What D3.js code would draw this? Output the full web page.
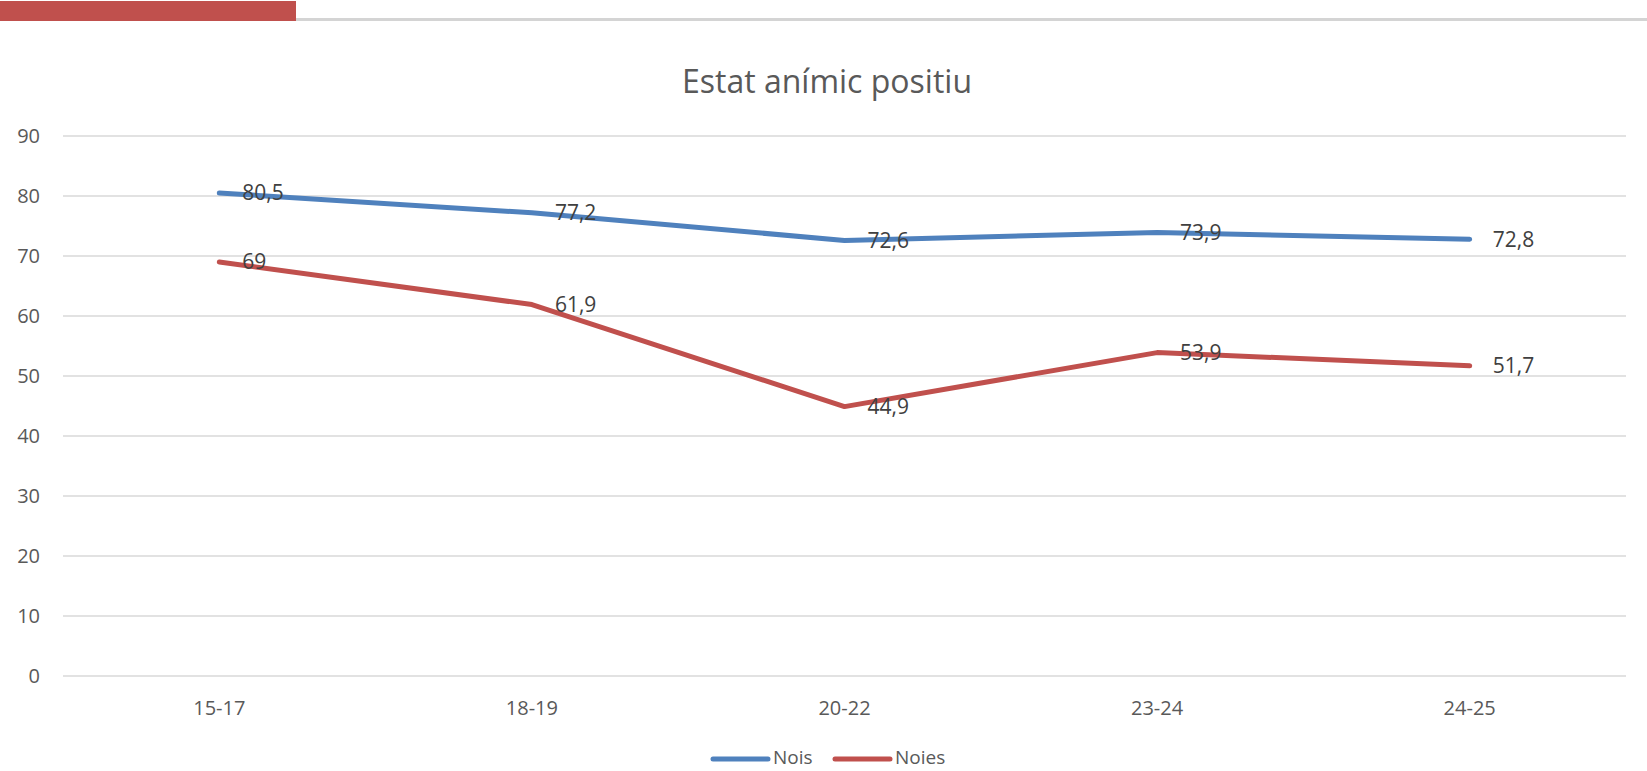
<!DOCTYPE html>
<html>
<head>
<meta charset="utf-8">
<title>Estat anímic positiu</title>
<style>
  body { margin: 0; background: #fff; }
  text { font-family: "Open Sans", "Noto Sans", sans-serif; }
</style>
</head>
<body>
<script src="https://d3js.org/d3.v7.min.js"></script>
<div id="chart"></div>
<script>
// data
var categories = ["15-17", "18-19", "20-22", "23-24", "24-25"];
var nois = [80.5, 77.2, 72.6, 73.9, 72.8];
var noies = [69, 61.9, 44.9, 53.9, 51.7];
var seriesNames = ["Nois", "Noies"];
var yTicks = [0, 10, 20, 30, 40, 50, 60, 70, 80, 90];

var width = 1647, height = 771;
var colors = { "Nois": "#4f81bd", "Noies": "#c0504d" };

var svg = d3.select("#chart").append("svg")
    .attr("width", width)
    .attr("height", height);

// top decoration: red tab with grey rule
svg.append("rect").attr("x", 4).attr("y", 18).attr("width", width - 4).attr("height", 3).attr("fill", "#d4d4d4");
svg.append("rect").attr("x", 0).attr("y", 1).attr("width", 296).attr("height", 20).attr("fill", "#c0504d");

// title
svg.append("text")
    .attr("x", 827).attr("y", 93)
    .attr("text-anchor", "middle")
    .attr("fill", "#595959")
    .style("font-size", "32px")
    .text("Estat anímic positiu");

var x = d3.scaleBand().domain(categories).range([63, 1626]);
var y = d3.scaleLinear().domain([0, 90]).range([676, 136]);

// gridlines
svg.append("g").selectAll("line")
  .data(yTicks)
  .enter().append("line")
    .attr("x1", 63).attr("x2", 1626)
    .attr("y1", function(d) { return y(d); })
    .attr("y2", function(d) { return y(d); })
    .attr("stroke", "#d9d9d9")
    .attr("stroke-width", 1.5);

// y axis labels
svg.append("g").selectAll("text")
  .data(yTicks)
  .enter().append("text")
    .attr("x", 40)
    .attr("y", function(d) { return y(d); })
    .attr("dy", "0.35em")
    .attr("text-anchor", "end")
    .attr("fill", "#595959")
    .style("font-size", "20px")
    .text(function(d) { return d; });

// x axis labels
svg.append("g").selectAll("text")
  .data(categories)
  .enter().append("text")
    .attr("x", function(d) { return x(d) + x.bandwidth() / 2; })
    .attr("y", 715)
    .attr("text-anchor", "middle")
    .attr("fill", "#595959")
    .style("font-size", "20px")
    .text(function(d) { return d; });

var cx = function(d, i) { return x(categories[i]) + x.bandwidth() / 2; };
var line = d3.line()
    .x(cx)
    .y(function(d) { return y(d); });

var series = [nois, noies];
series.forEach(function(vals, k) {
  var name = seriesNames[k];
  svg.append("path")
    .datum(vals)
    .attr("d", line)
    .attr("fill", "none")
    .attr("stroke", colors[name])
    .attr("stroke-width", 5)
    .attr("stroke-linejoin", "round")
    .attr("stroke-linecap", "round");

  svg.append("g").selectAll("text")
    .data(vals)
    .enter().append("text")
      .attr("x", function(d, i) { return cx(d, i) + 23; })
      .attr("y", function(d) { return y(d); })
      .attr("dy", "0.35em")
      .attr("fill", "#404040")
      .style("font-size", "21px")
      .text(function(d) { return String(d).replace(".", ","); });
});

// legend
var legend = [
  { name: "Nois", x: 713 },
  { name: "Noies", x: 835 }
];
var lg = svg.append("g").selectAll("g")
  .data(legend)
  .enter().append("g");
lg.append("line")
  .attr("x1", function(d) { return d.x; })
  .attr("x2", function(d) { return d.x + 55; })
  .attr("y1", 759).attr("y2", 759)
  .attr("stroke", function(d) { return colors[d.name]; })
  .attr("stroke-width", 5)
  .attr("stroke-linecap", "round");
lg.append("text")
  .attr("x", function(d) { return d.x + 60; })
  .attr("y", 764)
  .attr("fill", "#595959")
  .style("font-size", "19px")
  .text(function(d) { return d.name; });
</script>
</body>
</html>
